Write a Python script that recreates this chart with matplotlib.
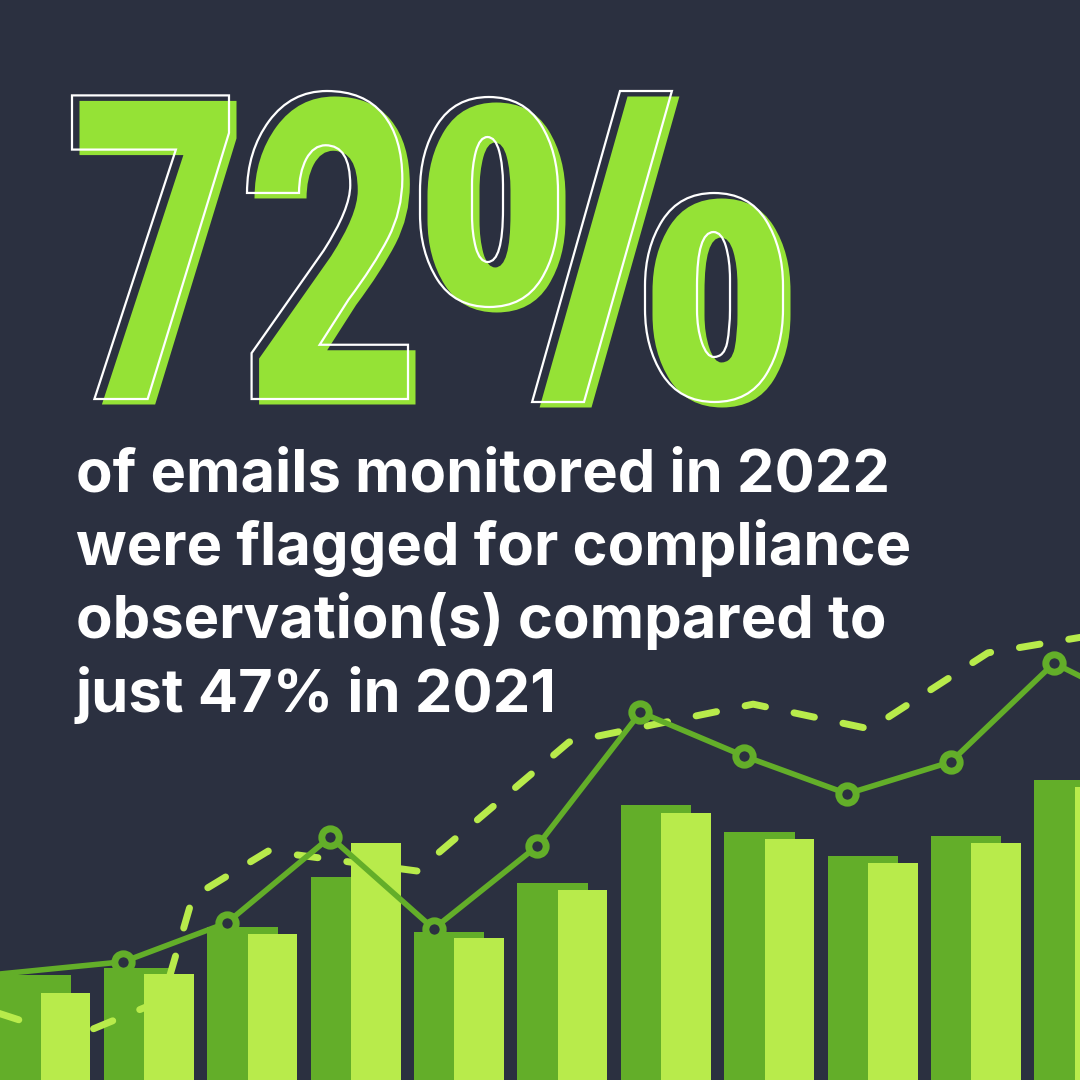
import numpy as np
import matplotlib
matplotlib.use('Agg')
import matplotlib.pyplot as plt
import matplotlib.colors as mcolors
from matplotlib import patheffects as pe
from matplotlib.path import Path
from matplotlib.transforms import Affine2D
from matplotlib.textpath import TextPath
from matplotlib.font_manager import FontProperties

BG = '#2b3040'
DARK = '#63ae29'
LIGHT = '#b8eb4b'
BIG = '#95e236'

big_label = '72%'
body_lines = ['of emails monitored in 2022',
              'were flagged for compliance',
              'observation(s) compared to',
              'just 47% in 2021']

# bar series (one pair per group)
groups = np.arange(11)
dark_vals = [19.4, 20.7, 28.4, 37.6, 27.5, 36.5, 50.9, 45.9, 41.5, 45.2, 55.6]
light_vals = [16.1, 19.6, 27.1, 43.9, 26.3, 35.2, 49.4, 44.6, 40.2, 43.9, 54.3]

# solid line with ring markers (runs off both edges)
solid_x = [-1, 1, 2, 3, 4, 5, 6, 7, 8, 9, 10, 11]
solid_vals = [18.1, 21.9, 29.1, 45.0, 28.0, 43.3, 68.1, 60.0, 53.0, 58.9, 77.2, 67.6]

# dashed line
dash_x = [-0.64, 0.26, 1.13, 1.42, 2.15, 3.59, 5.06, 6.84, 7.97, 9.11, 10.48]
dash_vals = [13.5, 7.9, 14.8, 33.9, 42.4, 38.7, 62.6, 69.6, 65.0, 79.1, 83.5]

W = H = 1080

# ---- layout of the headline glyphs in the reference (pixels, y from top)
digit_spans = [(72, 229), (247, 408)]       # 7 and 2
digit_top, digit_bot = 91, 399
pct_boxes = {'up_out': (420, 97, 558, 307), 'up_in': (472, 137, 503, 262),
             'lo_out': (645, 193, 783, 402), 'lo_in': (697, 232, 730, 357)}
slash_bl, slash_tl, slash_w = (527, 402), (620, 91), 57
anchor = (72, 330)                          # where the text object sits

fp = FontProperties(family='Roboto', weight='black')
src_spans = []
for i, ch in enumerate(big_label[:2]):
    right = TextPath((0, 0), big_label[:i + 1], size=100, prop=fp).get_extents().x1
    wid = TextPath((0, 0), ch, size=100, prop=fp).get_extents().width
    src_spans.append((right - wid, right))
dig_ext = TextPath((0, 0), big_label[:2], size=100, prop=fp).get_extents()
cut1 = (src_spans[0][1] + src_spans[1][0]) / 2
cut2 = src_spans[1][1] + 1e-6


def box_map(p, src, dst):
    sx0, sy0, sx1, sy1 = src
    x0, top, x1, bot = dst
    x = x0 + (p[:, 0] - sx0) / (sx1 - sx0) * (x1 - x0)
    y = bot - (p[:, 1] - sy0) / (sy1 - sy0) * (bot - top)
    return np.column_stack([x, y])


def slash_map(p, pts):
    lo_y, hi_y = pts[:, 1].min(), pts[:, 1].max()
    m = np.polyfit(pts[:, 1], pts[:, 0], 1)[0]      # lean of the stroke
    d_all = pts[:, 0] - m * pts[:, 1]
    dmin, dmax = d_all.min(), d_all.max()
    t = (p[:, 1] - lo_y) / (hi_y - lo_y)
    t = np.where(t > 0.85, 1.0, np.where(t < 0.15, 0.0, t))   # flat ends
    d = (p[:, 0] - m * p[:, 1] - dmin) / (dmax - dmin)
    y_td = slash_bl[1] - t * (slash_bl[1] - slash_tl[1])
    x_px = slash_bl[0] + t * (slash_tl[0] - slash_bl[0]) + d * slash_w
    return np.column_stack([x_px, y_td])


def fit_vertices(v, codes):
    """glyph outline (font units) -> pixel positions, y from top"""
    out = np.zeros_like(v)
    starts = np.flatnonzero(codes == Path.MOVETO)
    ends = list(starts[1:]) + [len(codes)]
    pct = []
    for s, e in zip(starts, ends):
        pts = v[s:e][codes[s:e] != Path.CLOSEPOLY]
        lo, hi = pts.min(0), pts.max(0)
        cx = (lo[0] + hi[0]) / 2
        if cx < cut2:
            g = 0 if cx < cut1 else 1
            src = (src_spans[g][0], dig_ext.y0, src_spans[g][1], dig_ext.y1)
            dst = (digit_spans[g][0], digit_top, digit_spans[g][1], digit_bot)
            out[s:e] = box_map(v[s:e], src, dst)
        else:
            pct.append((s, e, lo, hi, pts))
    if len(pct) != 5:
        pv = np.concatenate([c[4] for c in pct])
        full = (pv[:, 0].min(), pv[:, 1].min(), pv[:, 0].max(), pv[:, 1].max())
        for s, e, *_ in pct:
            out[s:e] = box_map(v[s:e], full, (420, 91, 783, 402))
        return out
    pct.sort(key=lambda c: c[3][1] - c[2][1])
    s, e, lo, hi, pts = pct[-1]              # tallest contour is the slash
    out[s:e] = slash_map(v[s:e], pts)
    rings = sorted(pct[:4], key=lambda c: -(c[2][1] + c[3][1]))
    for pair, name in ((rings[:2], 'up'), (rings[2:], 'lo')):
        pair = sorted(pair, key=lambda c: c[3][0] - c[2][0])
        for (s, e, lo, hi, _), kind in zip(pair, ('in', 'out')):
            out[s:e] = box_map(v[s:e], (lo[0], lo[1], hi[0], hi[1]),
                               pct_boxes[name + '_' + kind])
    return out


class GlyphFit(pe.AbstractPathEffect):
    """redraw the text outline with each glyph part fitted to its box"""

    def __init__(self, offset=(0, 0), fill=None, edge=None, lw=0.0):
        super().__init__()
        self.off = offset
        self.fill = None if fill is None else mcolors.to_rgba(fill)
        self.edge = edge
        self.lw = lw

    def draw_path(self, renderer, gc, tpath, affine, rgbFace=None):
        x0, y0 = affine.transform((0, 0))
        px = fit_vertices(tpath.vertices, tpath.codes)
        verts = np.column_stack([x0 + px[:, 0] - anchor[0] + self.off[0],
                                 y0 + anchor[1] - px[:, 1] + self.off[1]])
        gc0 = renderer.new_gc()
        gc0.copy_properties(gc)
        if self.edge is not None:
            gc0.set_foreground(self.edge)
            gc0.set_linewidth(self.lw)
            gc0.set_joinstyle('miter')
        else:
            gc0.set_linewidth(0)
        renderer.draw_path(gc0, Path(verts, tpath.codes), Affine2D(), self.fill)
        gc0.restore()


fig = plt.figure(figsize=(10.8, 10.8), dpi=100, facecolor=BG)

ax = fig.add_axes([0, 0, 1, 0.5])
ax.set_axis_off()
ax.set_xlim(-0.444, 10.001)
ax.set_ylim(0, 100)

ax.bar(groups - 0.1, dark_vals, width=0.68, color=DARK, linewidth=0, zorder=1)
ax.plot(dash_x, dash_vals, color=LIGHT, lw=5, dashes=(3, 4.2),
        dash_capstyle='round', dash_joinstyle='round', zorder=2)
ax.bar(groups + 0.19, light_vals, width=0.48, color=LIGHT, linewidth=0, zorder=3)
ax.plot(np.array(solid_x) - 0.25, solid_vals, color=DARK, lw=4,
        marker='o', ms=12.5, mew=5, mfc=BG, mec=DARK,
        markevery=list(range(1, 11)), solid_joinstyle='round', zorder=4)

fig.text(anchor[0] / W, 1 - anchor[1] / H, big_label, fontproperties=fp,
         fontsize=70, ha='left', va='baseline',
         path_effects=[GlyphFit(offset=(7.5, -5.5), fill=BIG),
                       GlyphFit(edge='white', lw=1.6)])

# ---- body text, sized so the first line spans the reference width
body_fp = FontProperties(family='Inter', weight='bold')
w100 = TextPath((0, 0), body_lines[0], size=100, prop=body_fp).get_extents().width
body_size = 100 * (885 - 77) / (w100 * 100 / 72)
baselines = [492, 565, 638, 712]
for line, b in zip(body_lines, baselines):
    fig.text(76 / W, 1 - b / H, line, color='white', fontproperties=body_fp,
             fontsize=body_size, ha='left', va='baseline')

fig.savefig('out.png', dpi=100, facecolor=BG)
